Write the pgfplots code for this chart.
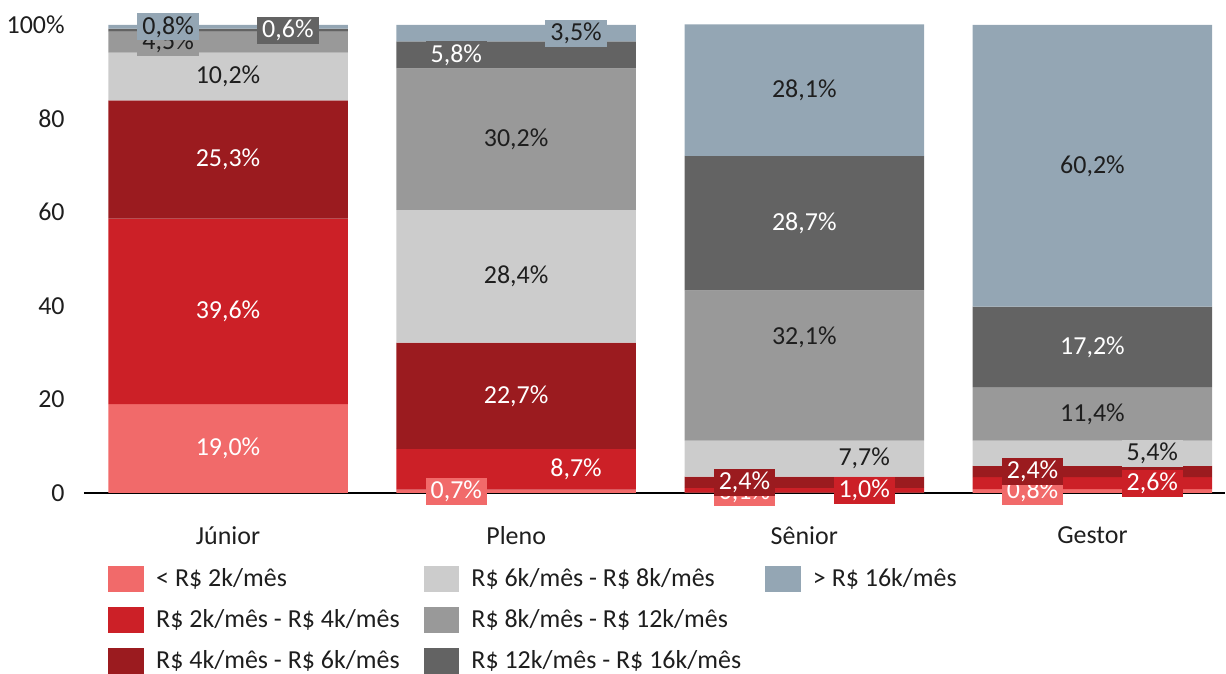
\documentclass[border=0pt]{standalone}
\usepackage{pgfplots}
\usepackage{pgfplotstable}
\pgfplotsset{compat=1.18}
\usepackage{fontspec}
\setmainfont{Carlito}

\definecolor{cA}{RGB}{241,106,106}
\definecolor{cB}{RGB}{204,32,39}
\definecolor{cC}{RGB}{155,27,31}
\definecolor{cD}{RGB}{204,204,204}
\definecolor{cE}{RGB}{153,153,153}
\definecolor{cF}{RGB}{99,99,99}
\definecolor{cG}{RGB}{148,166,180}
\definecolor{txt}{RGB}{30,30,30}

% x = category, y = share (%), dx/dy = label shift (pt)
\pgfplotstableread{
x y dx dy
0 19.0 0 0
1 0.7 -30 0
2 0.1 -30 0
3 0.8 -30 0
}\tA
\pgfplotstableread{
x y dx dy
0 39.6 0 0
1 8.7 30 0
2 1.0 30 0
3 2.6 30 0
}\tB
\pgfplotstableread{
x y dx dy
0 25.3 0 0
1 22.7 0 0
2 2.4 -30 0
3 2.4 -30 0
}\tC
\pgfplotstableread{
x y dx dy
0 10.2 0 0
1 28.4 0 0
2 7.7 30 0
3 5.4 30 0
}\tD
\pgfplotstableread{
x y dx dy
0 4.5 -30 0
1 30.2 0 0
2 32.1 0 14
3 11.4 0 0
}\tE
\pgfplotstableread{
x y dx dy
0 0.6 30 0
1 5.8 -30 0
2 28.7 0 0
3 17.2 0 0
}\tF
\pgfplotstableread{
x y dx dy
0 0.8 -30 0
1 3.5 30 0
2 28.1 0 0
3 60.2 0 0
}\tG

\begin{document}
\begin{tikzpicture}
\begin{axis}[
    scale only axis,
    width=571.75pt, height=234.73pt,
    ybar stacked, bar width=120pt,
    reverse stacked plots=false,
    xmin=-0.5, xmax=3.46,
    ymin=0, ymax=100.1,
    axis x line=bottom, axis y line=left,
    axis line style={-},
    x axis line style={black, line width=1pt},
    y axis line style={draw=none},
    tick style={draw=none},
    xtick={0,1,2,3},
    xticklabels={Júnior,Pleno,Sênior,Gestor},
    ytick={0,20,40,60,80,100},
    yticklabels={0,20,40,60,80,100\%},
    tick label style={font=\fontsize{13}{15}\selectfont, text=txt},
    xticklabel style={yshift=-11pt},
    yticklabel style={xshift=-4pt},
    /pgf/number format/assume math mode=true,
    /pgf/number format/.cd, fixed, fixed zerofill, precision=1, use comma,
    /pgfplots/.cd,
    visualization depends on={\thisrow{dx} \as \dx},
    visualization depends on={\thisrow{dy} \as \dy},
    nodes near coords={\pgfmathprintnumber{\pgfplotspointmeta}\%},
    every node near coord/.append style={anchor=center,
        font=\fontsize{13}{15}\selectfont,
        inner xsep=2.5pt, inner ysep=1.5pt,
        xshift={1pt*\dx}, yshift={1pt*\dy}},
    legend cell align=left,
    legend columns=3,
    legend image code/.code={\fill[#1] (0pt,-6.5pt) rectangle (18pt,6.5pt);},
    legend style={draw=none, fill=none, inner sep=0pt, outer sep=0pt,
        at={(axis description cs:0.0214,0)}, anchor=north west, yshift=-36.5pt,
        font=\fontsize{13}{15}\selectfont, text=txt,
        nodes={inner sep=0pt},
        row sep=7.6pt, column sep=6pt,
        /tikz/every even column/.append style={column sep=12pt}},
]
% legend in the reference's order (row by row)
\addlegendimage{fill=cA, draw=none}
\addlegendimage{fill=cD, draw=none}
\addlegendimage{fill=cG, draw=none}
\addlegendimage{fill=cB, draw=none}
\addlegendimage{fill=cE, draw=none}
\addlegendimage{empty legend}
\addlegendimage{fill=cC, draw=none}
\addlegendimage{fill=cF, draw=none}

\addplot[fill=cA, draw=none, every node near coord/.append style={fill=cA, text=white}] table[x=x,y=y] {\tA};
\addplot[fill=cB, draw=none, every node near coord/.append style={fill=cB, text=white}] table[x=x,y=y] {\tB};
\addplot[fill=cC, draw=none, every node near coord/.append style={fill=cC, text=white}] table[x=x,y=y] {\tC};
\addplot[fill=cD, draw=none, every node near coord/.append style={fill=cD, text=txt}] table[x=x,y=y] {\tD};
\addplot[fill=cE, draw=none, every node near coord/.append style={fill=cE, text=txt}] table[x=x,y=y] {\tE};
\addplot[fill=cF, draw=none, every node near coord/.append style={fill=cF, text=white}] table[x=x,y=y] {\tF};
\addplot[fill=cG, draw=none, every node near coord/.append style={fill=cG, text=txt}] table[x=x,y=y] {\tG};
\legend{< R\$ 2k/mês, R\$ 6k/mês - R\$ 8k/mês, > R\$ 16k/mês,
        R\$ 2k/mês - R\$ 4k/mês, R\$ 8k/mês - R\$ 12k/mês, \mbox{},
        R\$ 4k/mês - R\$ 6k/mês, R\$ 12k/mês - R\$ 16k/mês}
\end{axis}
% white space above the bars, as in the reference
\path ([yshift=12.27pt]current axis.north west);
\end{tikzpicture}
\end{document}
